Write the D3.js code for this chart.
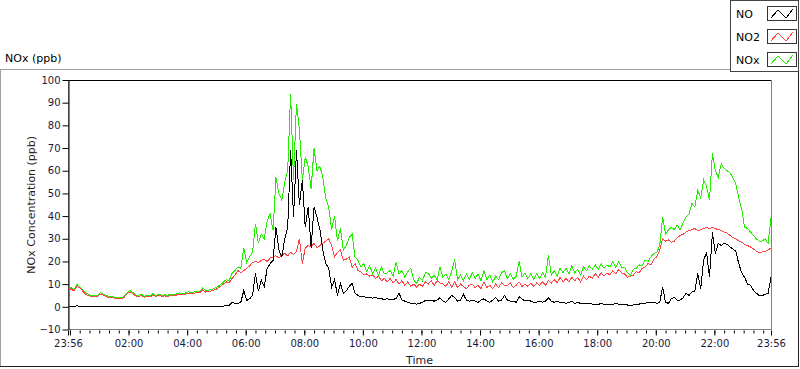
<!DOCTYPE html>
<html lang="en">
<head>
<meta charset="UTF-8" />
<title>NOx (ppb)</title>
<script src="https://d3js.org/d3.v7.min.js"></script>
<style>
  body { margin: 0; background: #fff; }
  svg text { font-family: "DejaVu Sans", sans-serif; }
</style>
</head>
<body>
<div id="chart"></div>
<script>
  // series names / colours (legend order)
  const seriesNames = ["NO", "NO2", "NOx"];
  const seriesColors = ["#000000", "#ff4444", "#22ee00"];

  // one reading every 6 minutes, 23:56 -> 23:56 next day (241 values each)
  const startTime = new Date(2000, 0, 1, 23, 56);
  const stepMinutes = 6;

  const noValues = [
    0, 0, 0, 0.5, 0, 0, 0, 0, 0, 0,
    0, 0, 0, 0, 0, 0, 0, 0, 0, 0,
    0, 0, 0, 0, 0, 0, 0, 0, 0, 0,
    0, 0, 0, 0, 0, 0, 0, 0, 0, 0,
    0, 0, 0, 0, 0, 0, 0, 0, 0, 0,
    0, 0, 0.2, 0.3, 0.5, 0.5, 2, 1.5, 1.5, 2,
    7.2, 2.8, 3.5, 5, 14.7, 7, 11.7, 9, 17, 19,
    20.5, 35, 25, 22, 30, 35, 69, 39.5, 69, 45,
    56, 35, 44, 26, 44, 39.5, 34, 25, 19, 17,
    8.6, 12, 5, 10.3, 6, 7, 9, 10.3, 6, 5,
    4.3, 4.5, 4, 4.3, 3.8, 4.3, 3.5, 3.6, 3.2, 3.6,
    3, 3.3, 3.6, 6, 3, 2.5, 2, 1.5, 1.5, 1.2,
    1.5, 2, 2.8, 3, 2.8, 2.5, 3, 4, 2.5, 2,
    3.5, 5, 4, 2.5, 3, 5.5, 3, 2.5, 3, 2.5,
    2, 3, 3.5, 2.5, 2, 3, 4, 2.5, 3, 5,
    3, 2.5, 2.5, 2, 4.5, 3.5, 2.5, 3, 2.5, 2,
    2, 2.5, 2, 2.5, 4, 2.5, 2, 2.5, 2, 2,
    1.5, 2, 2.5, 1.5, 2, 1.5, 1.5, 1.5, 1.5, 1.2,
    1.2, 1, 1.5, 1, 1.2, 1, 1, 1.5, 1.2, 1,
    1, 0.8, 0.8, 0.8, 1, 1.2, 1.5, 1.5, 2, 2,
    2, 1.5, 2, 8.6, 2, 1.5, 3.7, 4, 3, 3,
    4, 6, 5, 6.5, 7, 14.7, 8, 20.5, 24, 13,
    32.8, 23.5, 28, 27, 28, 27.5, 26.4, 25.5, 24.5, 19,
    15, 13, 10, 9.5, 7.3, 6, 5, 5, 5.5, 6,
    13
  ];

  const no2Values = [
    6, 8, 7, 9, 8.5, 7, 5.5, 5, 4.6, 4.5,
    4.6, 5.5, 5.2, 4.5, 4, 4.2, 3.8, 3.7, 3.6, 4,
    5.5, 6.5, 6, 4.8, 4.5, 5, 4.2, 4.6, 4.5, 5,
    4.6, 5, 4.7, 4.8, 4.5, 5, 4.8, 5.2, 5.5, 5.2,
    5.5, 6, 5.8, 6, 6.4, 6.2, 7.5, 6.5, 6.8, 7,
    7.5, 8, 9, 10, 11, 10.5, 12.5, 14, 16, 15,
    16, 17, 18, 19.6, 20, 19.5, 20.5, 21, 20, 21.5,
    22, 22.5, 21.5, 23, 23.5, 22.5, 24, 23, 24.5, 30,
    19, 26, 27, 26.5, 28, 26, 27, 28, 29, 30,
    27, 22, 24, 25, 20.5, 21, 22, 17.4, 19, 16,
    15.5, 14, 14.5, 13.5, 14, 12.5, 13.5, 11.5, 12.5, 11,
    12.5, 10.5, 12, 10, 11.5, 9.5, 11, 9, 10, 8.7,
    10, 9, 11, 10, 11.5, 9.5, 11.5, 10.5, 10, 9,
    11, 8.5, 11, 8.5, 10, 9, 8, 9.5, 10, 8.5,
    9.5, 8, 11, 8.5, 9.5, 8, 10, 8.5, 10.5, 9.5,
    9.5, 10.5, 8.5, 9.5, 11, 9, 10, 9, 10.5, 9,
    10.5, 9.5, 11, 9.5, 11.5, 10.5, 12, 10.5, 13, 11,
    12.5, 11, 13, 11.5, 13, 11, 13.5, 12, 13.5, 12.5,
    14.7, 13, 15, 13.5, 15, 14, 16, 14.5, 16.5, 15,
    14.5, 13, 13.5, 14, 15.5, 15, 17, 17.5, 19, 18.5,
    21, 22, 25, 30, 29, 29.5, 28.5, 29, 30.5, 31.5,
    32, 33, 33.7, 34, 34.6, 33.5, 34, 34.6, 35, 34.5,
    35, 34.5, 34, 33.7, 33, 32.5, 31.5, 30.5, 30, 29,
    28.5, 27.5, 27, 26.4, 25.5, 24.5, 24, 24.2, 24.5, 25,
    26
  ];

  const noxValues = [
    6.5, 8.5, 7.5, 9.8, 9, 7.5, 6, 5.5, 5, 5,
    5, 6.2, 5.5, 5, 4.5, 4.6, 4.2, 4, 4, 4.5,
    6, 7.2, 6.5, 5.2, 5, 5.6, 4.6, 5, 5, 5.8,
    5, 5.5, 5, 5.3, 5, 5.6, 5.2, 5.6, 6.2, 5.8,
    6, 6.6, 6.3, 6.5, 7, 6.8, 8.3, 7, 7.4, 7.6,
    8.2, 8.8, 9.8, 10.8, 12, 11.5, 14.7, 16, 17.5, 17,
    26, 19.6, 22, 24, 36.7, 28, 32, 30, 38, 41,
    33.7, 57, 50, 47, 55, 60, 94, 56, 89.6, 78,
    56, 66, 62, 52, 70, 60, 62, 57, 48, 44,
    34, 40, 29, 34.6, 25, 27, 30.6, 32, 22, 20.5,
    17.5, 19, 15.5, 18, 14.5, 17, 14, 17.5, 14.5, 15,
    16, 13.5, 19.6, 14.5, 16, 13, 15.5, 17, 12, 10.3,
    13, 11.5, 15, 14.8, 12.5, 14, 12, 17.5, 13, 14.5,
    12, 15.5, 21, 12, 14, 11.5, 14.5, 12, 15, 12.5,
    14.5, 11.5, 16, 12, 14, 11, 13.5, 12, 15, 16,
    12.5, 14.5, 12, 13.5, 20, 13, 15, 12.5, 14.5, 12,
    14.5, 12.5, 15, 13, 22.7, 14, 16, 13.5, 17, 15,
    17, 14.5, 18, 15, 16.5, 14, 17.5, 16, 18, 16.5,
    18.5, 16.5, 19, 17, 18.5, 17.5, 20, 17.5, 20, 17.5,
    17.5, 15, 14, 16.5, 17, 18.5, 18, 20.5, 20, 22,
    23.5, 24, 27, 39.6, 32, 34, 35, 34, 36, 34,
    37, 39.6, 41, 45.6, 44, 51.4, 48, 56, 53, 47,
    67.7, 60, 57, 63, 61, 60, 59, 57, 54, 48,
    43, 35, 34.6, 33, 31.5, 30, 29, 29, 30, 28,
    39
  ];

  const yTicks = [-10, 0, 10, 20, 30, 40, 50, 60, 70, 80, 90, 100];

  const width = 800, height = 369;
  const plot = { left: 68, right: 771, top: 80, bottom: 329.5 };
  const tickColor = "#1a1a3a";

  const svg = d3.select("#chart").append("svg").attr("width", width).attr("height", height);

  // outer frame
  svg.append("line").attr("x1", 0).attr("x2", 730).attr("y1", 69.5).attr("y2", 69.5).attr("stroke", "#a0a0a0");
  svg.append("line").attr("x1", 0.5).attr("x2", 0.5).attr("y1", 69.5).attr("y2", 367).attr("stroke", "#a0a0a0");
  svg.append("line").attr("x1", 0).attr("x2", 799).attr("y1", 366.5).attr("y2", 366.5).attr("stroke", "#222");
  svg.append("line").attr("x1", 798.5).attr("x2", 798.5).attr("y1", 70).attr("y2", 367).attr("stroke", "#222");

  svg.append("text").attr("x", 5).attr("y", 62).style("font-size", "11px").attr("fill", "#000").text("NOx (ppb)");

  const endTime = d3.timeMinute.offset(startTime, 1440);
  const x = d3.scaleTime().domain([startTime, endTime]).range([plot.left, plot.right]);
  const y = d3.scaleLinear().domain([-10, 100]).range([plot.bottom, plot.top]);

  // plot frame
  svg.append("rect")
    .attr("x", plot.left + 0.5).attr("y", plot.top + 0.5)
    .attr("width", plot.right - plot.left).attr("height", plot.bottom - plot.top - 0.5)
    .attr("fill", "#fff").attr("stroke", "#808080");
  svg.append("line").attr("x1", plot.left + 0.5).attr("x2", plot.right).attr("y1", plot.top + 0.5).attr("y2", plot.top + 0.5).attr("stroke", "#000");

  // y axis
  const yAxis = svg.append("g").attr("transform", `translate(${plot.left + 0.5},0)`)
    .call(d3.axisLeft(y).tickValues(yTicks).tickSize(6).tickPadding(2).tickSizeOuter(0));
  yAxis.select(".domain").attr("stroke", "#000");
  yAxis.selectAll(".tick line").attr("stroke", "#000");
  yAxis.selectAll("text").attr("fill", tickColor).style("font-size", "10px").style("font-family", "DejaVu Sans");

  // x axis: minor ticks every 20 min, major every 2 h, plus both ends
  const fmt = d3.timeFormat("%H:%M");
  const minorTicks = d3.timeMinute.every(20).range(startTime, endTime);
  const majorTicks = [startTime, ...d3.timeHour.every(2).range(startTime, endTime), endTime];

  const xMinor = svg.append("g").attr("transform", `translate(0,${plot.bottom + 1})`)
    .call(d3.axisBottom(x).tickValues(minorTicks).tickSize(3).tickFormat(""));
  xMinor.select(".domain").remove();

  const xAxis = svg.append("g").attr("transform", `translate(0,${plot.bottom + 1})`)
    .call(d3.axisBottom(x).tickValues(majorTicks).tickSize(5).tickPadding(4)
      .tickFormat(d => (d.getHours() === 0 && d.getMinutes() === 0) ? "" : fmt(d)));
  xAxis.select(".domain").remove();
  svg.selectAll(".tick line").attr("stroke", "#000");
  xAxis.selectAll("text").attr("fill", tickColor).style("font-size", "10px").style("font-family", "DejaVu Sans");

  // axis titles
  svg.append("text").attr("x", (plot.left + plot.right) / 2).attr("y", 364)
    .attr("text-anchor", "middle").style("font-size", "11px").attr("fill", tickColor).text("Time");
  svg.append("text")
    .attr("transform", `translate(35,${(plot.top + plot.bottom) / 2}) rotate(-90)`)
    .attr("text-anchor", "middle").style("font-size", "11px").attr("fill", "#2a1a1a")
    .text("NOx Concentration (ppb)");

  // data lines
  svg.append("clipPath").attr("id", "clip").append("rect")
    .attr("x", plot.left + 1).attr("y", plot.top + 1)
    .attr("width", plot.right - plot.left - 0.5).attr("height", plot.bottom - plot.top - 1);

  const toPoints = vals => vals.map((v, i) => ({ t: d3.timeMinute.offset(startTime, i * stepMinutes), v }));
  const series = [noValues, no2Values, noxValues].map(toPoints);
  const line = d3.line().x(d => x(d.t)).y(d => y(d.v));

  const linesG = svg.append("g").attr("clip-path", "url(#clip)");
  [2, 1, 0].forEach(k => {
    linesG.append("path").datum(series[k])
      .attr("fill", "none").attr("stroke", seriesColors[k]).attr("stroke-width", 1)
      .attr("shape-rendering", "crispEdges")
      .attr("d", line);
  });

  // legend
  const legend = svg.append("g");
  legend.append("rect").attr("x", 730.5).attr("y", 0.5).attr("width", 68).attr("height", 71)
    .attr("fill", "#fff").attr("stroke", "#444");
  const zig = d3.line().x(d => d[0]).y(d => d[1]);
  seriesNames.forEach((name, k) => {
    const cy = 14 + k * 23;
    legend.append("text").attr("x", 736).attr("y", cy).attr("dy", "0.35em")
      .style("font-size", "11px").attr("fill", "#000").text(name);
    legend.append("rect").attr("x", 767.5).attr("y", cy - 7.5).attr("width", 29).attr("height", 14)
      .attr("fill", "#fff").attr("stroke", "#333");
    legend.append("path")
      .attr("d", zig([[771, cy + 4], [778, cy - 4], [786, cy + 4], [793, cy - 5]]))
      .attr("fill", "none").attr("stroke", seriesColors[k]).attr("stroke-width", 1)
      .attr("shape-rendering", "crispEdges");
  });
</script>
</body>
</html>
